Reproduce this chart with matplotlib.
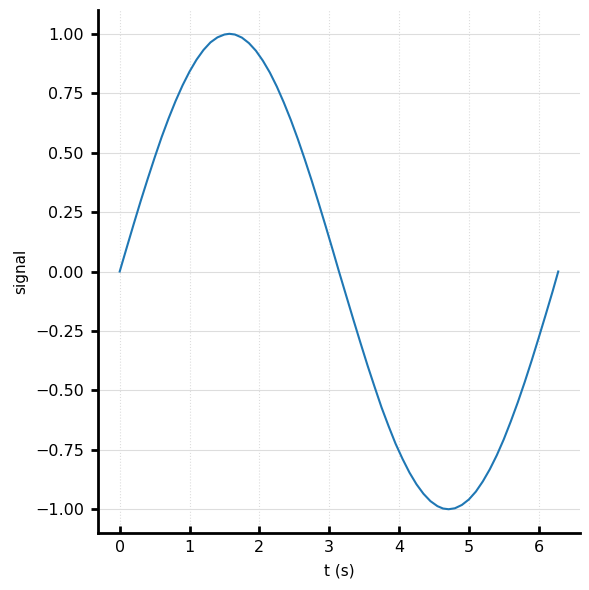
import numpy as np
import matplotlib
matplotlib.use("Agg")
import matplotlib.pyplot as plt

# samples
t = [0.0, 0.1, 0.2, 0.3, 0.4, 0.5, 0.6, 0.7, 0.8, 0.9, 1.0, 1.1, 1.2, 1.3, 1.4,
     1.5, 1.57, 1.65, 1.75, 1.85, 1.95, 2.05, 2.15, 2.25, 2.35, 2.45, 2.55, 2.65,
     2.75, 2.85, 2.95, 3.05, 3.14, 3.25, 3.35, 3.45, 3.55, 3.65, 3.75, 3.85, 3.95,
     4.05, 4.15, 4.25, 4.35, 4.45, 4.55, 4.63, 4.71, 4.8, 4.9, 5.0, 5.1, 5.2, 5.3,
     5.4, 5.5, 5.6, 5.7, 5.8, 5.9, 6.0, 6.1, 6.2, 6.28]
signal = [0.0, 0.100, 0.199, 0.296, 0.389, 0.479, 0.565, 0.644, 0.717, 0.783,
          0.841, 0.891, 0.932, 0.964, 0.985, 0.997, 1.0, 0.997, 0.984, 0.961,
          0.929, 0.887, 0.837, 0.778, 0.711, 0.638, 0.558, 0.472, 0.382, 0.287,
          0.190, 0.091, 0.0, -0.108, -0.206, -0.302, -0.396, -0.485, -0.572,
          -0.650, -0.724, -0.788, -0.846, -0.895, -0.935, -0.966, -0.987, -0.997,
          -1.0, -0.996, -0.982, -0.959, -0.926, -0.883, -0.832, -0.773, -0.706,
          -0.631, -0.551, -0.465, -0.374, -0.279, -0.182, -0.083, 0.0]

fig, ax = plt.subplots(figsize=(5.89, 5.9), dpi=100)
fig.subplots_adjust(left=0.166, right=0.985, top=0.983, bottom=0.0966)

ax.plot(t, signal, color="#1f77b4", linewidth=1.5)

ax.set_xlabel("t (s)", fontsize=11, labelpad=6)
ax.set_ylabel("signal", fontsize=11, labelpad=5)

ax.grid(axis="y", color="#dddddd", linestyle="-", linewidth=0.8)
ax.grid(axis="x", color="#dddddd", linestyle=":", linewidth=0.8)
ax.set_axisbelow(True)

for side in ["top", "right"]:
    ax.spines[side].set_visible(False)
for side in ["left", "bottom"]:
    ax.spines[side].set_linewidth(2)

ax.set_yticks([-1.0, -0.75, -0.5, -0.25, 0.0, 0.25, 0.5, 0.75, 1.0])
ax.tick_params(axis="y", direction="out", width=2, length=5, pad=5, labelsize=11.5)
ax.tick_params(axis="x", direction="in", width=2, length=5, pad=5, labelsize=11.5)

plt.savefig("out.png")
